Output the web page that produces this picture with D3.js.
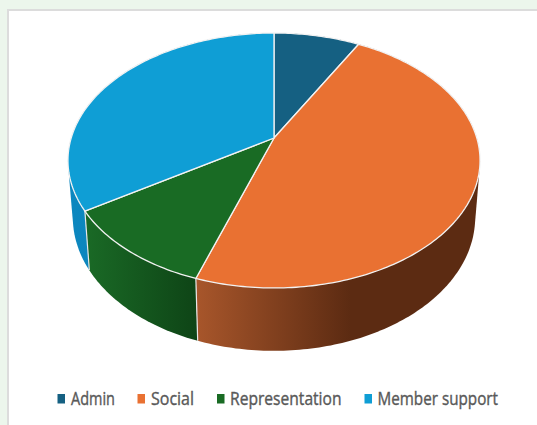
<!DOCTYPE html>
<html>
<head>
<meta charset="utf-8">
<style>
  html, body { margin: 0; padding: 0; background: #ecf6ec; }
  svg { display: block; }
</style>
<script src="https://cdn.jsdelivr.net/npm/d3@7/dist/d3.min.js"></script>
</head>
<body>
<script>
// Share of activity by category
const categories = ["Admin", "Social", "Representation", "Member support"];
const shares = [8, 47.2, 10.8, 34];
const topColors = ["#156082", "#e97132", "#196b24", "#0f9ed5"];
const wallStart = ["#156082", "#a8562b", "#1a6a26", "#0c87bf"];
const wallEnd = ["#0d3d53", "#5c2b12", "#0e4416", "#0b7fb4"];

const width = 537, height = 425;
const svg = d3.select("body").append("svg").attr("width", width).attr("height", height);

// Card behind the chart
svg.append("rect").attr("x", 8).attr("y", 10).attr("width", 540).attr("height", 430)
  .attr("fill", "#fff").attr("stroke", "#dcdcdc").attr("stroke-width", 2);

// Perspective disc: maps a pie angle to the screen for the upper and lower rims
const tilt = 0.1765;
const upper = { cx: 274, cy: 138, a: 202.8, b: 123.5 };
const lower = { cx: 274, cy: 193.8, a: 198, b: 129.3 };
const project = (rim, angle) => {
  const u = Math.sin(angle), v = -Math.cos(angle), w = 1 - tilt * v;
  return [rim.cx + rim.a * u / w, rim.cy + rim.b * v / w];
};
const arcPoints = (rim, a0, a1) => {
  const n = Math.max(2, Math.ceil((a1 - a0) * 60));
  return d3.range(n + 1).map(i => project(rim, a0 + (a1 - a0) * i / n));
};

const slices = d3.pie().sort(null)(shares);
const line = d3.line();
const defs = svg.append("defs");

// Side walls, shaded left to right: each is the hull of its two rim arcs, painted
// back to front so the top face hides whatever lies behind it
[3, 0, 2, 1].forEach(i => {
  const s = slices[i];
  const points = arcPoints(upper, s.startAngle, s.endAngle)
    .concat(arcPoints(lower, s.startAngle, s.endAngle));
  const xs = points.map(p => p[0]);
  const grad = defs.append("linearGradient").attr("id", "wall" + i)
    .attr("gradientUnits", "userSpaceOnUse")
    .attr("x1", d3.min(xs)).attr("x2", i === 1 ? 350 : d3.max(xs)).attr("y1", 0).attr("y2", 0);
  grad.append("stop").attr("offset", 0).attr("stop-color", wallStart[i]);
  grad.append("stop").attr("offset", 1).attr("stop-color", wallEnd[i]);
  svg.append("path")
    .attr("d", line(d3.polygonHull(points)) + "Z")
    .attr("fill", `url(#wall${i})`);
});

// Seams between neighbouring walls
slices.forEach(s => {
  svg.append("path")
    .attr("d", line([project(upper, s.startAngle), project(lower, s.startAngle)]))
    .attr("stroke", "#e8e8e8").attr("stroke-width", 1.2).attr("fill", "none");
});

// Top face
const apex = [upper.cx, upper.cy];
slices.forEach((s, i) => {
  svg.append("path")
    .attr("d", line([apex, ...arcPoints(upper, s.startAngle, s.endAngle)]) + "Z")
    .attr("fill", topColors[i])
    .attr("stroke", "#f2f2f2").attr("stroke-width", 1.3).attr("stroke-linejoin", "round");
});

// Legend along the bottom
const swatchX = [57.5, 137.5, 217, 364.5];
const textX = [71, 151, 230, 377.5];
const textW = [44, 43, 111.5, 120.5];
categories.forEach((c, i) => {
  svg.append("rect").attr("x", swatchX[i]).attr("y", 394).attr("width", 7.5).attr("height", 9.5)
    .attr("fill", topColors[i]);
  svg.append("text").attr("x", textX[i]).attr("y", 404.5)
    .attr("textLength", textW[i]).attr("lengthAdjust", "spacingAndGlyphs")
    .attr("font-family", "'Liberation Sans Narrow', 'Open Sans', sans-serif")
    .attr("font-size", 19).attr("fill", "#595959")
    .attr("stroke", "#595959").attr("stroke-width", 0.4)
    .text(c);
});
</script>
</body>
</html>
